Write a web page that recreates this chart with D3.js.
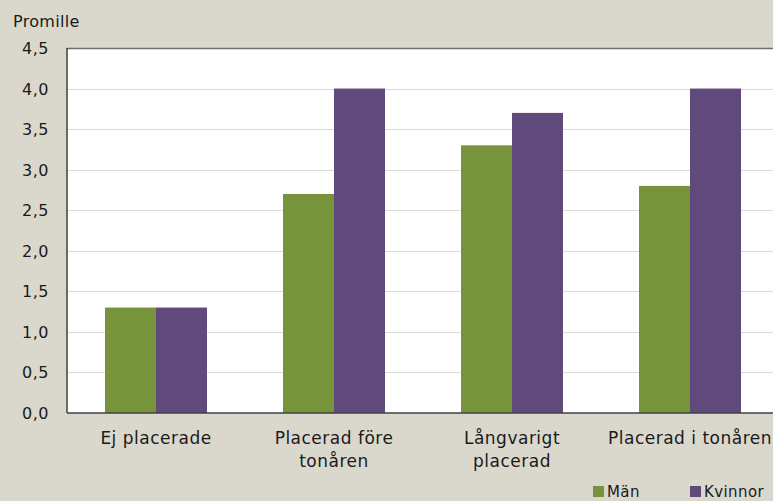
<!DOCTYPE html>
<html>
<head>
<meta charset="utf-8">
<script src="https://cdn.jsdelivr.net/npm/d3@7"></script>
<style>
  body { margin: 0; background: #dad8cc; }
  text { font-family: "DejaVu Sans", sans-serif; fill: #1a1a1a; }
</style>
</head>
<body>
<div id="chartDiv"></div>
<script>
var categories = [["Ej placerade"], ["Placerad före", "tonåren"], ["Långvarigt", "placerad"], ["Placerad i tonåren"]];
var series = ["Män", "Kvinnor"];
var manValues = [1.3, 2.7, 3.3, 2.8];
var kvinnorValues = [1.3, 4.0, 3.7, 4.0];
var yTicks = [0, 0.5, 1, 1.5, 2, 2.5, 3, 3.5, 4, 4.5];
var colors = ["#77933c", "#604a7b"];

var width = 773, height = 501;
const margin = { top: 48, right: -6, bottom: 88, left: 67 };

let svg = d3.select("#chartDiv").append("svg")
    .attr("width", width)
    .attr("height", height);

svg.append("rect").attr("width", width).attr("height", height).attr("fill", "#dad8cc");

let x = d3.scaleBand()
    .domain(d3.range(categories.length))
    .range([margin.left, width - margin.right])
    .paddingInner(0.427)
    .paddingOuter(0.2135);

let xs = d3.scaleBand()
    .domain(series)
    .range([0, x.bandwidth()]);

let y = d3.scaleLinear()
    .domain([0, 4.5])
    .range([height - margin.bottom, margin.top]);

// plot area
svg.append("rect")
    .attr("x", margin.left)
    .attr("y", margin.top)
    .attr("width", width - margin.left + 10)
    .attr("height", y(0) - margin.top)
    .attr("fill", "#ffffff");

// gridlines
svg.append("g")
    .selectAll("line")
    .data(yTicks.filter(d => d > 0 && d < 4.5))
    .join("line")
    .attr("x1", margin.left)
    .attr("x2", width)
    .attr("y1", d => Math.round(y(d)) + 0.5)
    .attr("y2", d => Math.round(y(d)) + 0.5)
    .attr("stroke", "#dcdbd2")
    .attr("stroke-width", 1);

// bars
var rows = categories.map((c, i) => [manValues[i], kvinnorValues[i]]);
let groups = svg.append("g")
    .selectAll("g")
    .data(rows)
    .join("g")
    .attr("transform", (d, i) => `translate(${x(i)},0)`);

groups.selectAll("rect")
    .data(d => d.map((v, j) => ({ key: series[j], value: v, j: j })))
    .join("rect")
    .attr("x", d => xs(d.key))
    .attr("y", d => y(d.value))
    .attr("width", xs.bandwidth())
    .attr("height", d => y(0) - y(d.value))
    .attr("fill", d => colors[d.j]);

// axis lines
svg.append("line")
    .attr("x1", margin.left).attr("x2", width)
    .attr("y1", margin.top + 0.5).attr("y2", margin.top + 0.5)
    .attr("stroke", "#6e6e6e").attr("stroke-width", 1.5);
svg.append("line")
    .attr("x1", margin.left).attr("x2", width)
    .attr("y1", y(0)).attr("y2", y(0))
    .attr("stroke", "#404040").attr("stroke-width", 1.5);
svg.append("line")
    .attr("x1", margin.left).attr("x2", margin.left)
    .attr("y1", margin.top).attr("y2", y(0))
    .attr("stroke", "#404040").attr("stroke-width", 1.5);

// y labels
const fmt = d => d3.format(".1f")(d).replace(".", ",");
svg.append("g")
    .selectAll("text")
    .data(yTicks)
    .join("text")
    .attr("x", 49)
    .attr("y", d => y(d) + 6)
    .attr("text-anchor", "end")
    .style("font-size", "16px")
    .style("letter-spacing", "0.5px")
    .text(fmt);

svg.append("text")
    .attr("x", 13)
    .attr("y", 27)
    .style("font-size", "16px")
    .style("letter-spacing", "0.3px")
    .text("Promille");

// x labels
let xl = svg.append("g")
    .selectAll("text")
    .data(categories)
    .join("text")
    .attr("text-anchor", "middle")
    .attr("transform", (d, i) => `translate(${x(i) + x.bandwidth() / 2},444)`)
    .style("font-size", "17px")
    .style("letter-spacing", "0.5px");
xl.selectAll("tspan")
    .data(d => d)
    .join("tspan")
    .attr("x", 0)
    .attr("dy", (d, i) => i === 0 ? 0 : 23)
    .text(d => d);

// legend
let legend = svg.append("g")
    .selectAll("g")
    .data(series)
    .join("g")
    .attr("transform", (d, i) => `translate(${593 + i * 97},486)`);
legend.append("rect")
    .attr("width", 11).attr("height", 11)
    .attr("fill", (d, i) => colors[i]);
legend.append("text")
    .attr("x", 14)
    .attr("y", 11)
    .style("font-size", "15px")
    .style("letter-spacing", "0.4px")
    .text(d => d);
</script>
</body>
</html>
